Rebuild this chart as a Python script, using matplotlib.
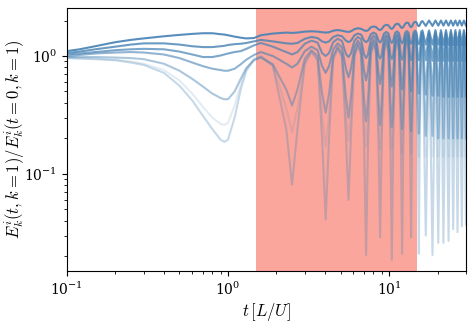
import matplotlib
matplotlib.use("Agg")
import matplotlib.pyplot as plt

plt.rcParams["mathtext.fontset"] = "cm"
plt.rcParams["font.family"] = "serif"
plt.rcParams["font.serif"] = ["DejaVu Serif"]

# time samples: smooth start, then one block per oscillation inside the band
# (near-peak, shoulder, trough, shoulder, near-peak, peak), then trough/peak pairs after it
t = [0.1, 0.12, 0.15, 0.2, 0.25, 0.3, 0.4, 0.5, 0.6, 0.7, 0.8, 0.9, 0.95, 1.0, 1.1, 1.2, 1.3, 1.45, 1.6,
     1.9, 2.3, 2.5, 2.7, 3.0, 3.3,
     3.6, 3.84, 4.04, 4.24, 4.5, 4.8,
     5.1, 5.4, 5.6, 5.8, 6.1, 6.4,
     6.7, 7.0, 7.2, 7.4, 7.7, 8.0,
     8.3, 8.6, 8.8, 9.0, 9.3, 9.6,
     9.9, 10.2, 10.4, 10.6, 10.9, 11.2,
     11.5, 11.85, 12.05, 12.25, 12.6, 12.9,
     13.2, 13.5, 13.7, 13.9, 14.2, 14.5,
     14.8, 15.1, 15.3, 15.5, 15.8, 16.1,
     16.9, 17.7, 18.6, 19.4, 20.2, 21.0, 21.75, 22.55, 23.4, 24.2, 25.0, 25.8, 26.6, 27.45, 28.3, 29.15, 30.0]

E_a = [1.10, 1.14, 1.21, 1.31, 1.37, 1.41, 1.47, 1.51, 1.54, 1.56, 1.56, 1.53, 1.52, 1.50, 1.46, 1.43, 1.41, 1.42, 1.50,
       1.55, 1.58, 1.57, 1.58, 1.61, 1.62,
       1.61, 1.59, 1.58, 1.59, 1.64, 1.66,
       1.64, 1.61, 1.60, 1.62, 1.69, 1.72,
       1.70, 1.65, 1.63, 1.65, 1.75, 1.78,
       1.76, 1.68, 1.66, 1.69, 1.80, 1.84,
       1.82, 1.72, 1.70, 1.73, 1.84, 1.88,
       1.86, 1.75, 1.73, 1.76, 1.88, 1.92,
       1.90, 1.78, 1.76, 1.79, 1.91, 1.95,
       1.93, 1.81, 1.79, 1.82, 1.94, 1.98,
       1.80, 2.0, 1.80, 2.0, 1.81, 2.0, 1.81, 2.0, 1.81, 2.0, 1.81, 2.0, 1.81, 2.0, 1.81, 2.0, 1.81]

E_b = [1.06, 1.09, 1.14, 1.20, 1.25, 1.28, 1.28, 1.25, 1.21, 1.19, 1.19, 1.21, 1.22, 1.24, 1.26, 1.27, 1.29, 1.33, 1.37,
       1.33, 1.28, 1.27, 1.29, 1.40, 1.45,
       1.42, 1.33, 1.30, 1.33, 1.45, 1.50,
       1.47, 1.35, 1.31, 1.35, 1.50, 1.55,
       1.52, 1.35, 1.31, 1.35, 1.53, 1.58,
       1.54, 1.35, 1.30, 1.35, 1.55, 1.60,
       1.56, 1.34, 1.29, 1.34, 1.57, 1.62,
       1.57, 1.33, 1.28, 1.33, 1.58, 1.63,
       1.58, 1.32, 1.27, 1.32, 1.59, 1.64,
       1.59, 1.31, 1.26, 1.31, 1.60, 1.65,
       1.25, 1.65, 1.25, 1.66, 1.25, 1.66, 1.24, 1.66, 1.24, 1.66, 1.24, 1.66, 1.24, 1.66, 1.24, 1.66, 1.24]

E_c = [1.03, 1.05, 1.08, 1.12, 1.14, 1.15, 1.14, 1.09, 1.03, 0.98, 0.98, 1.01, 1.03, 1.05, 1.08, 1.10, 1.15, 1.23, 1.29,
       1.20, 1.08, 1.03, 1.08, 1.27, 1.35,
       1.30, 1.06, 1.00, 1.06, 1.31, 1.40,
       1.34, 1.04, 0.98, 1.05, 1.35, 1.45,
       1.39, 1.03, 0.96, 1.03, 1.39, 1.49,
       1.42, 1.02, 0.95, 1.02, 1.41, 1.52,
       1.43, 1.01, 0.94, 1.01, 1.43, 1.54,
       1.45, 1.00, 0.93, 1.00, 1.45, 1.56,
       1.47, 0.99, 0.92, 0.99, 1.47, 1.58,
       1.48, 0.99, 0.92, 0.99, 1.48, 1.59,
       0.92, 1.60, 0.91, 1.60, 0.91, 1.60, 0.91, 1.60, 0.91, 1.60, 0.91, 1.60, 0.91, 1.60, 0.91, 1.60, 0.91]

E_d = [1.00, 1.02, 1.05, 1.07, 1.08, 1.07, 1.03, 0.96, 0.88, 0.82, 0.78, 0.76, 0.75, 0.75, 0.78, 0.85, 0.93, 1.02, 1.08,
       1.00, 0.86, 0.80, 0.86, 1.10, 1.20,
       1.12, 0.82, 0.72, 0.82, 1.14, 1.28,
       1.18, 0.78, 0.66, 0.78, 1.19, 1.35,
       1.22, 0.75, 0.62, 0.75, 1.22, 1.40,
       1.26, 0.72, 0.58, 0.72, 1.26, 1.45,
       1.28, 0.70, 0.55, 0.70, 1.28, 1.48,
       1.30, 0.67, 0.52, 0.67, 1.30, 1.50,
       1.31, 0.65, 0.50, 0.65, 1.31, 1.52,
       1.32, 0.63, 0.48, 0.63, 1.32, 1.54,
       0.47, 1.55, 0.46, 1.55, 0.46, 1.55, 0.45, 1.55, 0.45, 1.55, 0.45, 1.55, 0.45, 1.55, 0.45, 1.55, 0.45]

E_e = [0.98, 0.98, 0.98, 0.97, 0.96, 0.94, 0.86, 0.75, 0.64, 0.55, 0.48, 0.44, 0.43, 0.43, 0.50, 0.64, 0.79, 0.92, 0.97,
       0.85, 0.52, 0.38, 0.52, 0.95, 1.12,
       1.00, 0.48, 0.33, 0.48, 1.00, 1.20,
       1.05, 0.45, 0.30, 0.45, 1.05, 1.27,
       1.10, 0.43, 0.28, 0.43, 1.10, 1.32,
       1.14, 0.42, 0.26, 0.42, 1.14, 1.37,
       1.17, 0.41, 0.25, 0.41, 1.17, 1.41,
       1.20, 0.40, 0.24, 0.40, 1.20, 1.44,
       1.22, 0.39, 0.23, 0.39, 1.22, 1.46,
       1.24, 0.38, 0.22, 0.38, 1.24, 1.48,
       0.21, 1.49, 0.21, 1.50, 0.20, 1.50, 0.20, 1.50, 0.20, 1.50, 0.20, 1.50, 0.20, 1.50, 0.20, 1.50, 0.20]

E_f = [0.97, 0.96, 0.95, 0.93, 0.90, 0.86, 0.76, 0.62, 0.48, 0.37, 0.30, 0.265, 0.26, 0.27, 0.38, 0.58, 0.78, 0.95, 1.00,
       0.85, 0.36, 0.227, 0.36, 0.90, 1.10,
       0.96, 0.32, 0.17, 0.32, 0.97, 1.18,
       1.00, 0.33, 0.19, 0.33, 1.02, 1.24,
       1.04, 0.31, 0.17, 0.31, 1.05, 1.28,
       1.08, 0.30, 0.16, 0.30, 1.08, 1.32,
       1.10, 0.30, 0.16, 0.30, 1.10, 1.35,
       1.12, 0.29, 0.15, 0.29, 1.12, 1.38,
       1.14, 0.29, 0.15, 0.29, 1.14, 1.40,
       1.16, 0.28, 0.14, 0.28, 1.16, 1.42,
       0.14, 1.43, 0.14, 1.44, 0.14, 1.44, 0.14, 1.44, 0.14, 1.44, 0.14, 1.44, 0.14, 1.44, 0.14, 1.44, 0.14]

E_g = [0.96, 0.95, 0.94, 0.92, 0.88, 0.84, 0.72, 0.56, 0.42, 0.31, 0.24, 0.195, 0.187, 0.195, 0.30, 0.52, 0.75, 0.93, 0.99,
       0.82, 0.24, 0.081, 0.24, 0.86, 1.08,
       0.92, 0.20, 0.041, 0.20, 0.93, 1.15,
       0.98, 0.21, 0.060, 0.21, 0.99, 1.22,
       1.02, 0.18, 0.0205, 0.18, 1.02, 1.26,
       1.05, 0.19, 0.029, 0.19, 1.05, 1.30,
       1.08, 0.18, 0.0187, 0.18, 1.08, 1.33,
       1.10, 0.18, 0.021, 0.18, 1.10, 1.36,
       1.12, 0.19, 0.029, 0.19, 1.12, 1.38,
       1.13, 0.18, 0.021, 0.18, 1.13, 1.40,
       0.030, 1.41, 0.0205, 1.42, 0.026, 1.42, 0.026, 1.42, 0.027, 1.42, 0.034, 1.42, 0.032, 1.42, 0.036, 1.42, 0.037]

curves = [E_a, E_b, E_c, E_d, E_e, E_f, E_g]
alphas = [0.9, 0.8, 0.7, 0.6, 0.45, 0.15, 0.3]

band = (1.5, 15.0)

fig = plt.figure(figsize=(4.74, 3.23), dpi=100)
ax = fig.add_axes([0.141, 0.161, 0.842, 0.814])

ax.axvspan(band[0], band[1], color="salmon", alpha=0.7, lw=0, zorder=0)
for vals, a in zip(curves, alphas):
    ax.plot(t, vals, color="steelblue", alpha=a, lw=1.5, zorder=2)

ax.set_xscale("log")
ax.set_yscale("log")
ax.set_xlim(0.1, 30)
ax.set_ylim(0.015, 2.55)
ax.tick_params(labelsize=10)
ax.set_xlabel(r"$t\,[L/U]$", fontsize=12, labelpad=2)
ax.set_ylabel(r"$E^i_k(t,k=1)/E^i_k(t=0,k=1)$", fontsize=12)
ax.yaxis.set_label_coords(-0.1, 0.5)

fig.savefig("out.png", dpi=100)
